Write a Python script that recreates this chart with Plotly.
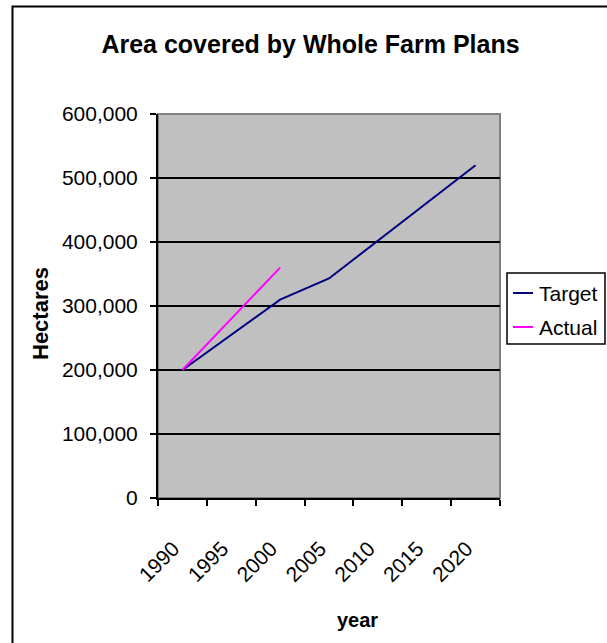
import plotly.graph_objects as go

years = ["1990", "1995", "2000", "2005", "2010", "2015", "2020"]
target = [200000, 255000, 310000, 343000, 402000, 462000, 520000]
actual_years = ["1990", "1995", "2000"]
actual = [200000, 280000, 360000]
y_ticks = [0, 100000, 200000, 300000, 400000, 500000, 600000]
series_names = ["Target", "Actual"]
series_colors = ["#000080", "#FF00FF"]

FONT = "Liberation Sans, Arial, sans-serif"
W, H = 607, 643
L, R, T, B = 158, 107, 114, 145
PW, PH = W - L - R, H - T - B

def px_x(px):
    return (px - L) / PW

def px_y(py):
    return (H - B - py) / PH

fig = go.Figure()
fig.add_trace(go.Scatter(x=years, y=target, mode="lines", name=series_names[0],
                         line=dict(color=series_colors[0], width=2)))
fig.add_trace(go.Scatter(x=actual_years, y=actual, mode="lines", name=series_names[1],
                         line=dict(color=series_colors[1], width=2)))

# manual legend (box, short line samples, labels)
legend_shapes = [
    dict(type="rect", xref="paper", yref="paper",
         x0=px_x(507), x1=px_x(605), y0=px_y(344), y1=px_y(273),
         line=dict(color="black", width=1.5), fillcolor="white"),
]
legend_annots = []
for i, (nm, col) in enumerate(zip(series_names, series_colors)):
    yy = 293 + i * 34
    legend_shapes.append(dict(type="line", xref="paper", yref="paper",
                              x0=px_x(513), x1=px_x(533), y0=px_y(yy), y1=px_y(yy),
                              line=dict(color=col, width=2)))
    legend_annots.append(dict(text=nm, xref="paper", yref="paper",
                              x=px_x(537), y=px_y(yy), xanchor="left", yanchor="middle",
                              showarrow=False,
                              font=dict(size=21, family=FONT, color="black")))

fig.update_layout(
    width=W, height=H,
    margin=dict(l=L, r=R, t=T, b=B, autoexpand=False),
    paper_bgcolor="white",
    plot_bgcolor="#C0C0C0",
    font=dict(family=FONT, color="black", size=20),
    title=dict(text="<b>Area covered by Whole Farm Plans</b>",
               font=dict(size=25, family=FONT, color="black"),
               x=310.5 / W, xanchor="center", xref="container",
               y=1 - 44 / H, yanchor="middle", yref="container"),
    showlegend=False,
    xaxis=dict(
        type="category", range=[-0.5, 6.5],
        tickson="boundaries", ticks="outside", ticklen=6, tickcolor="black",
        tickwidth=1.5,
        showgrid=False, showline=True, linecolor="black", linewidth=2,
        tickangle=-45, tickfont=dict(size=21, family=FONT),
        ticklabelstandoff=28, ticklabelshift=-9,
        zeroline=False,
    ),
    yaxis=dict(
        range=[0, 600000], tickvals=y_ticks, tickformat=",d",
        ticks="outside", ticklen=6, tickcolor="black", tickwidth=1.5,
        showgrid=True, gridcolor="black", gridwidth=1.5,
        showline=True, linecolor="black", linewidth=2,
        tickfont=dict(size=21, family=FONT),
        ticklabelstandoff=8,
        zeroline=False,
    ),
    annotations=[
        dict(text="<b>year</b>", xref="paper", yref="paper",
             x=px_x(357), y=px_y(620), xanchor="center", yanchor="middle",
             showarrow=False, font=dict(size=20, family=FONT, color="black")),
        dict(text="<b>Hectares</b>", xref="paper", yref="paper",
             x=px_x(40), y=px_y(314), xanchor="center", yanchor="middle",
             textangle=-90, showarrow=False,
             font=dict(size=22, family=FONT, color="black")),
    ] + legend_annots,
    shapes=[
        dict(type="rect", xref="paper", yref="paper", x0=0, x1=1, y0=0, y1=1,
             line=dict(color="#808080", width=2), fillcolor="rgba(0,0,0,0)", layer="below"),
        dict(type="rect", xref="paper", yref="paper",
             x0=px_x(12.5), x1=px_x(620), y0=px_y(660), y1=px_y(6.5),
             line=dict(color="black", width=2), fillcolor="rgba(0,0,0,0)"),
    ] + legend_shapes,
)

fig.write_html("out.html")
